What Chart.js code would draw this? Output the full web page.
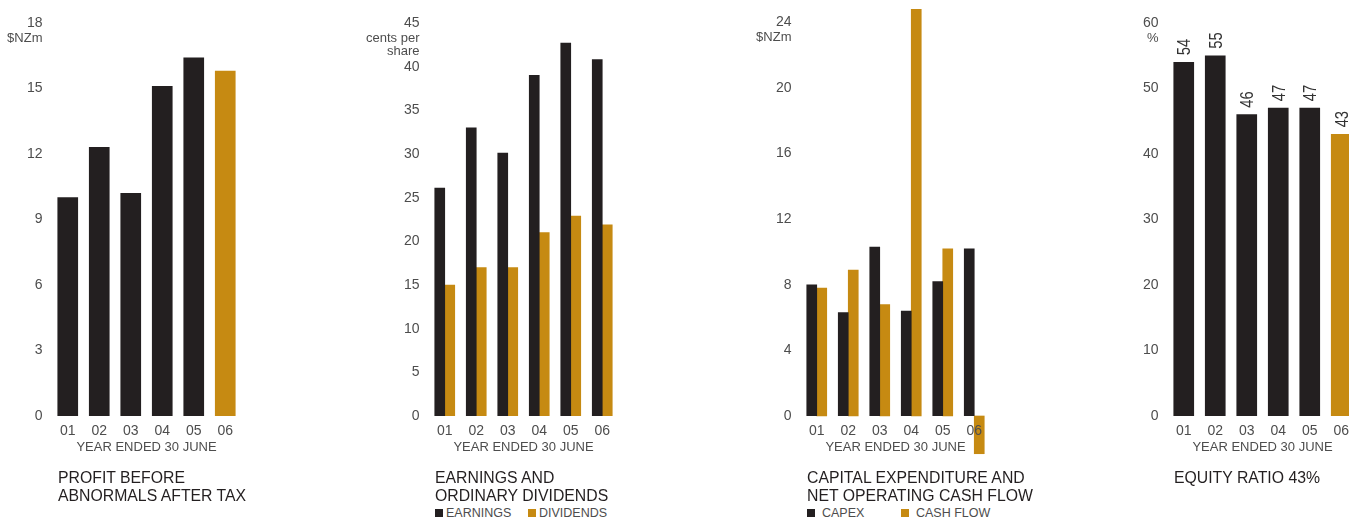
<!DOCTYPE html>
<html>
<head>
<meta charset="utf-8">
<script src="https://cdn.jsdelivr.net/npm/chart.js@4.4.1/dist/chart.umd.min.js"></script>
<style>
  html, body { margin: 0; padding: 0; width: 1349px; height: 518px; overflow: hidden; background: #fff; }
  body { position: relative; font-family: "Liberation Sans", Arial, sans-serif; }
  canvas { position: absolute; top: 0; }
  .caption { position: absolute; top: 469.4px; font-size: 15.8px; line-height: 17.5px; color: #231f20; white-space: nowrap; }
  .key { position: absolute; top: 505.9px; font-size: 12.5px; line-height: 14px; color: #4d4d4d; white-space: nowrap; }
  .swatch { position: absolute; top: 508.6px; width: 8px; height: 8px; }
</style>
</head>
<body>
<canvas id="profitChart" width="259" height="470" style="left:-18px"></canvas>
<canvas id="epsChart" width="259" height="470" style="left:359px"></canvas>
<canvas id="capexChart" width="259" height="470" style="left:731px"></canvas>
<canvas id="equityChart" width="259" height="470" style="left:1098px"></canvas>

<div class="caption" style="left:58px">PROFIT BEFORE<br>ABNORMALS AFTER TAX</div>
<div class="caption" style="left:435px">EARNINGS AND<br>ORDINARY DIVIDENDS</div>
<div class="caption" style="left:807px">CAPITAL EXPENDITURE AND<br>NET OPERATING CASH FLOW</div>
<div class="caption" id="equityCaption" style="left:1174px"></div>

<script>
const years = ['01', '02', '03', '04', '05', '06'];

const profitTicks = [0, 3, 6, 9, 12, 15, 18];
const profit = [10.0, 12.3, 10.2, 15.1, 16.4, 15.8];

const epsTicks = [0, 5, 10, 15, 20, 25, 30, 35, 40, 45];
const earnings = [26.1, 33.0, 30.1, 39.0, 42.7, 40.8];
const dividends = [15.0, 17.0, 17.0, 21.0, 22.9, 21.9];

const capexTicks = [0, 4, 8, 12, 16, 20, 24];
const capex = [8.0, 6.3, 10.3, 6.4, 8.2, 10.2];
const cashFlow = [7.8, 8.9, 6.8, 24.8, 10.2, -2.3];

const equityTicks = [0, 10, 20, 30, 40, 50, 60];
const equityRatio = [54, 55, 46, 47, 47, 43];

const BLACK = '#231f20';
const GOLD = '#c68a12';
const GREY = '#4d4d4d';
const FONT = '"Liberation Sans", Arial, sans-serif';
const AXIS_W = 70;

Chart.defaults.font.family = FONT;
Chart.defaults.color = GREY;
Chart.defaults.animation = false;

// current year is picked out in gold
const yearColours = years.map((y, i) => i === years.length - 1 ? GOLD : BLACK);

// unit text under the top tick of the y axis
const unitLabel = {
    id: 'unitLabel',
    afterDraw(chart, args, opts) {
        const y = chart.scales.y;
        const ctx = chart.ctx;
        const top = y.getPixelForValue(y.ticks[y.ticks.length - 1].value);
        ctx.save();
        ctx.font = `13px ${FONT}`;
        ctx.fillStyle = GREY;
        ctx.textAlign = 'right';
        ctx.textBaseline = 'middle';
        opts.lines.forEach((line, i) => {
            ctx.fillText(line, chart.chartArea.left - 9.5, top + 15.5 + i * 12.5);
        });
        ctx.restore();
    }
};

// upright value labels sitting on top of each bar
const barValues = {
    id: 'barValues',
    afterDatasetsDraw(chart) {
        const ctx = chart.ctx;
        const size = 18;
        const values = chart.data.datasets[0].data;
        ctx.save();
        ctx.font = `${size}px ${FONT}`;
        ctx.fillStyle = '#333';
        ctx.textAlign = 'left';
        ctx.textBaseline = 'alphabetic';
        chart.getDatasetMeta(0).data.forEach((bar, i) => {
            ctx.save();
            ctx.translate(bar.x + 0.358 * size, bar.y - 7);
            ctx.rotate(-Math.PI / 2);
            ctx.scale(0.82, 1);
            ctx.fillText(String(values[i]), 0, 0);
            ctx.restore();
        });
        ctx.restore();
    }
};

function yAxis(ticks, max) {
    return {
        min: 0,
        max: max,
        grid: { display: false, drawTicks: false, tickLength: 0 },
        border: { display: false },
        ticks: { padding: 9.5, font: { size: 14 }, color: GREY },
        afterBuildTicks: s => { s.ticks = ticks.map(v => ({ value: v })); },
        afterFit: s => { s.width = AXIS_W; s.paddingTop = 0; s.paddingBottom = 0; }
    };
}

function xAxis() {
    return {
        grid: { display: false, drawTicks: false, tickLength: 0 },
        border: { display: false },
        ticks: { padding: 7, font: { size: 14 }, color: GREY, maxRotation: 0, autoSkip: false },
        title: {
            display: true,
            text: 'YEAR ENDED 30 JUNE',
            font: { size: 13 },
            color: GREY,
            padding: { top: 0, bottom: 5 }
        },
        afterFit: s => { s.height = 44; }
    };
}

function baseOptions(yTicks, max, top, units) {
    return {
        responsive: false,
        devicePixelRatio: 1,
        layout: { padding: { top: top, bottom: 10, left: 0, right: 0 } },
        plugins: {
            legend: { display: false },
            tooltip: { enabled: false },
            unitLabel: { lines: units }
        },
        scales: { x: xAxis(), y: yAxis(yTicks, max) }
    };
}

new Chart(document.getElementById('profitChart'), {
    type: 'bar',
    data: {
        labels: years,
        datasets: [{ label: 'PROFIT', data: profit, backgroundColor: yearColours, barThickness: 20 }]
    },
    options: baseOptions(profitTicks, 18, 23, ['$NZm']),
    plugins: [unitLabel]
});

new Chart(document.getElementById('epsChart'), {
    type: 'bar',
    data: {
        labels: years,
        datasets: [
            { label: 'EARNINGS', data: earnings, backgroundColor: BLACK, barThickness: 10 },
            { label: 'DIVIDENDS', data: dividends, backgroundColor: GOLD, barThickness: 10 }
        ]
    },
    options: baseOptions(epsTicks, 45, 23, ['cents per', 'share']),
    plugins: [unitLabel]
});

const capexOptions = baseOptions(capexTicks, 25, 6, ['$NZm']);
capexOptions.scales.x.ticks.z = 1;   // year labels stay on top of the negative bar

new Chart(document.getElementById('capexChart'), {
    type: 'bar',
    data: {
        labels: years,
        datasets: [
            { label: 'CAPEX', data: capex, backgroundColor: BLACK, barThickness: 10 },
            { label: 'CASH FLOW', data: cashFlow, backgroundColor: GOLD, barThickness: 10, clip: false }
        ]
    },
    options: capexOptions,
    plugins: [unitLabel]
});

new Chart(document.getElementById('equityChart'), {
    type: 'bar',
    data: {
        labels: years,
        datasets: [{ label: 'EQUITY RATIO', data: equityRatio, backgroundColor: yearColours, barThickness: 20 }]
    },
    options: baseOptions(equityTicks, 60, 23, ['%']),
    plugins: [unitLabel, barValues]
});

document.getElementById('equityCaption').textContent = `EQUITY RATIO ${equityRatio[equityRatio.length - 1]}%`;

// legends under the two paired-bar charts
function addKey(chartId, left, gap, step) {
    const chart = Chart.getChart(chartId);
    chart.data.datasets.forEach((ds, i) => {
        const x = left + i * step;
        const sw = document.createElement('div');
        sw.className = 'swatch';
        sw.style.left = x + 'px';
        sw.style.background = ds.backgroundColor;
        document.body.appendChild(sw);
        const txt = document.createElement('div');
        txt.className = 'key';
        txt.style.left = (x + 8 + gap) + 'px';
        txt.textContent = ds.label;
        document.body.appendChild(txt);
    });
}

addKey('epsChart', 435, 3, 93);
addKey('capexChart', 807, 7, 94);
</script>
</body>
</html>
